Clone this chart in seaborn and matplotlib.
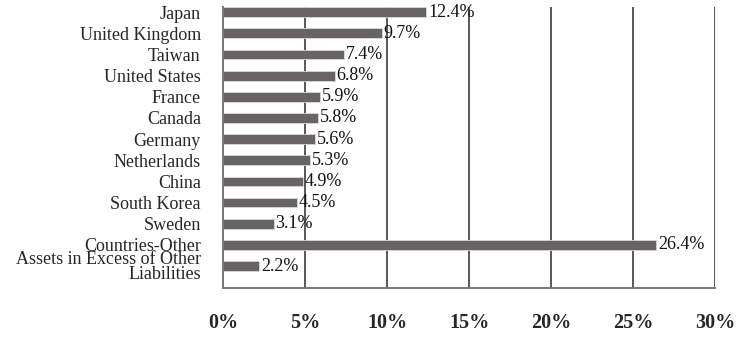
import pandas as pd
import matplotlib.pyplot as plt
import seaborn as sns

# === dati ===
countries = ["Japan", "United Kingdom", "Taiwan", "United States", "France",
             "Canada", "Germany", "Netherlands", "China", "South Korea",
             "Sweden", "Countries-Other", "Assets in Excess of Other\nLiabilities"]
weights = [12.4, 9.7, 7.4, 6.8, 5.9, 5.8, 5.6, 5.3, 4.9, 4.5, 3.1, 26.4, 2.2]
xticks = [0, 5, 10, 15, 20, 25, 30]

df = pd.DataFrame({"country": countries, "weight": weights})

sns.set_style("white")
plt.rcParams["font.family"] = ["Liberation Serif", "DejaVu Serif"]

fig = plt.figure(figsize=(7.56, 3.56), dpi=100)
ax = fig.add_axes([0.295, 0.191, 0.651, 0.789])

bar_color = "#686464"
sns.barplot(data=df, x="weight", y="country", color=bar_color, width=0.46,
            saturation=1, edgecolor="#d8d8d8", linewidth=0.6, ax=ax)

for i, v in enumerate(weights):
    ax.text(v + 0.1, i, f"{v}%", va="center", ha="left", fontsize=13, color="#111111")

ax.set_xlim(0, 30)
ax.set_ylim(13.04, -0.24)
ax.set_xticks(xticks)
ax.set_xticklabels([f"{t}%" for t in xticks], fontsize=14.5, fontweight="bold")
ax.tick_params(axis="x", length=0, pad=18)
ax.tick_params(axis="y", length=0, pad=16, labelsize=13)
for lbl in ax.get_yticklabels():
    lbl.set_linespacing(0.85)

ax.grid(axis="x", color="#5a5656", linewidth=1.4)
ax.set_axisbelow(True)
ax.set_xlabel("")
ax.set_ylabel("")
for side in ["top", "right"]:
    ax.spines[side].set_visible(False)
for side in ["left", "bottom"]:
    ax.spines[side].set_color("#7a7676")
    ax.spines[side].set_linewidth(1.4)

fig.savefig("out.png", dpi=100)
